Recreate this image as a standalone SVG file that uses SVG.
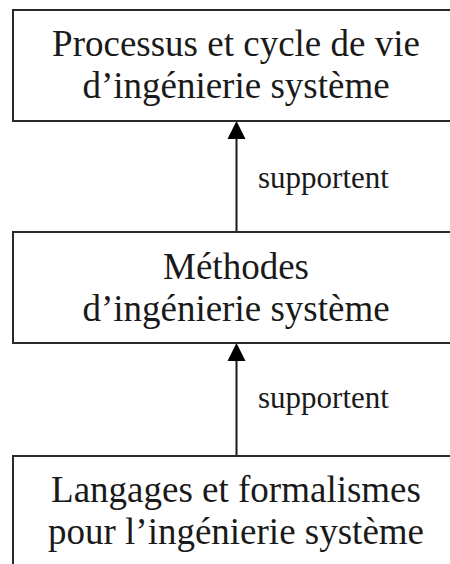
<svg xmlns="http://www.w3.org/2000/svg" width="450" height="564" viewBox="0 0 450 564">
<defs>
<style>
.box{fill:#ffffff;stroke:#2a2a2a;stroke-width:2}
.t{font-family:"Liberation Serif","Times New Roman",serif;font-size:37px;fill:#1a1a1a;text-anchor:middle}
.lbl{font-family:"Liberation Serif","Times New Roman",serif;font-size:31px;fill:#1a1a1a}
.ln{stroke:#1a1a1a;stroke-width:2;fill:none}
.ah{fill:#000000}
</style>
</defs>
<rect width="450" height="564" fill="#ffffff"/>
<g id="connectors">
<line class="ln" x1="236.5" y1="232" x2="236.5" y2="136"/>
<polygon class="ah" points="236.5,121 227.5,139 245.5,139"/>
<text class="lbl" x="258" y="188">supportent</text>
<line class="ln" x1="236.5" y1="456" x2="236.5" y2="358"/>
<polygon class="ah" points="236.5,343 227.5,361 245.5,361"/>
<text class="lbl" x="258" y="408">supportent</text>
</g>
<g id="node-processus">
<rect class="box" x="13" y="10" width="460" height="111"/>
<text class="t" x="236" y="56">Processus et cycle de vie</text>
<text class="t" x="236" y="98">d’ingénierie système</text>
</g>
<g id="node-methodes">
<rect class="box" x="13" y="232" width="460" height="111"/>
<text class="t" x="236" y="279">Méthodes</text>
<text class="t" x="236" y="321">d’ingénierie système</text>
</g>
<g id="node-langages">
<rect class="box" x="13" y="456" width="460" height="130"/>
<text class="t" x="236" y="502">Langages et formalismes</text>
<text class="t" x="236" y="544">pour l’ingénierie système</text>
</g>
</svg>
